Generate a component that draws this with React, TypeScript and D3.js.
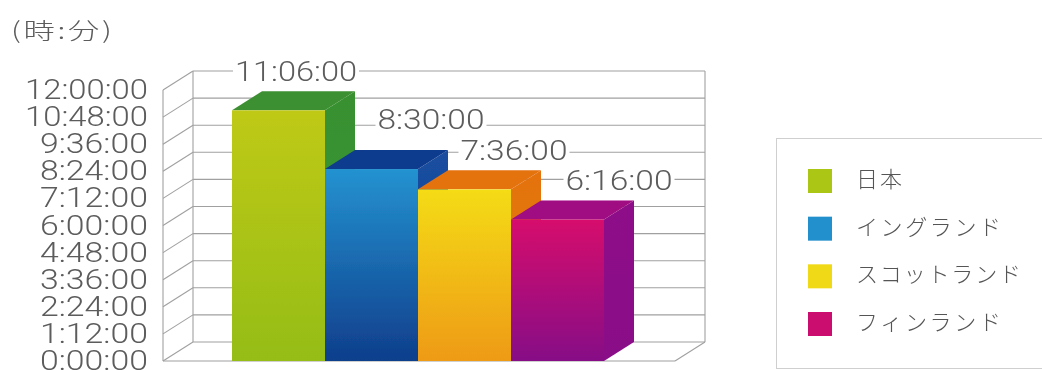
import React from "react";
import * as d3 from "d3";

const categories = ["日本", "イングランド", "スコットランド", "フィンランド"];
const valueLabels = ["11:06:00", "8:30:00", "7:36:00", "6:16:00"];
const hours = [11.1, 8.5, 7.6, 6.267];
const tickLabels = ["0:00:00","1:12:00","2:24:00","3:36:00","4:48:00","6:00:00","7:12:00","8:24:00","9:36:00","10:48:00","12:00:00"];
const tickHours = [0,1.2,2.4,3.6,4.8,6,7.2,8.4,9.6,10.8,12];
const legendColors = ["#acc614","#2490cc","#f0d914","#cc1070"];
const frontTop = ["#bfc916","#2492d0","#f4dc12","#d6106c"];
const frontBottom = ["#95bd14","#0f3e8c","#ee9a12","#860f86"];
const topFace = ["#3d9030","#113a8e","#e4720e","#a00c82"];
const sideTop = ["#37902f","#1a4fa0","#e4720e","#8e1088"];
const sideBottom = ["#3d9a34","#123c8c","#e0800e","#8a1088"];
const valueLabelCenters = [296, 431, 514, 619];
const valueLabelYs = [72, 120, 151, 181];

const W = 1042, H = 370;
const DX = 30, DY = -19;
const y = d3.scaleLinear().domain([0, 12]).range([361, 90]);
const x = d3.scaleBand<string>().domain(categories).range([232, 604]).padding(0);
const LEFT = 163, RIGHT = 675;
const TEXT = "#5c5c5c";
const GRID = "#a0a0a0";
const FONT = "Roboto, 'Liberation Sans', sans-serif";
const CJK = "'Noto Sans CJK JP', sans-serif";

const pts = (a: number[][]) => a.map(p => p.join(",")).join(" ");

export default function App() {
  const bw = x.bandwidth();
  return (
    <svg width={W} height={H} viewBox={`0 0 ${W} ${H}`} style={{ position: "absolute", left: 0, top: 0, background: "#fff" }}>
      <defs>
        <filter id="soft" x="-5%" y="-5%" width="110%" height="110%"><feGaussianBlur stdDeviation="0.55" /></filter>
        {categories.map((_, i) => (
          <g key={i}>
            <linearGradient id={`f${i}`} x1="0" y1="0" x2="0" y2="1">
              <stop offset="0" stopColor={frontTop[i]} /><stop offset="1" stopColor={frontBottom[i]} />
            </linearGradient>
            <linearGradient id={`s${i}`} x1="0" y1="0" x2="0" y2="1">
              <stop offset="0" stopColor={sideTop[i]} /><stop offset="1" stopColor={sideBottom[i]} />
            </linearGradient>
          </g>
        ))}
      </defs>
      <g filter="url(#soft)">
        <text transform="translate(11,39) scale(1.36,1)" fontSize={23} letterSpacing={2} fill={TEXT} fontWeight={300} fontFamily={CJK}>(時:分)</text>

        <g fill="none" stroke={GRID} strokeWidth={1.1}>
          {tickHours.map(t => (
            <g key={t}>
              <line x1={LEFT + DX} x2={RIGHT + DX} y1={y(t) + DY} y2={y(t) + DY} />
              <line x1={LEFT} x2={LEFT + DX} y1={y(t)} y2={y(t) + DY} />
            </g>
          ))}
          <line x1={LEFT} x2={LEFT} y1={y(12)} y2={y(0)} />
          <line x1={LEFT + DX} x2={LEFT + DX} y1={y(12) + DY} y2={y(0) + DY} />
          <line x1={RIGHT + DX} x2={RIGHT + DX} y1={y(12) + DY} y2={y(0) + DY} />
          <line x1={LEFT} x2={RIGHT} y1={y(0)} y2={y(0)} />
          <line x1={RIGHT} x2={RIGHT + DX} y1={y(0)} y2={y(0) + DY} />
        </g>

        {valueLabels.map((l, i) => {
          const w = i === 0 ? 122 : 107;
          return <rect key={l} x={valueLabelCenters[i] - w / 2 - 2} y={valueLabelYs[i] - 11} width={w + 4} height={22} fill="#fff" />;
        })}

        {categories.map((c, i) => {
          const x0 = x(c)!, x1 = x0 + bw, yt = y(hours[i]), yb = y(0);
          return (
            <g key={c}>
              <polygon points={pts([[x1, yt], [x1 + DX, yt + DY], [x1 + DX, yb + DY], [x1, yb]])} fill={`url(#s${i})`} />
              <polygon points={pts([[x0, yt], [x0 + DX, yt + DY], [x1 + DX, yt + DY], [x1, yt]])} fill={topFace[i]} />
              <rect x={x0} y={yt} width={bw} height={yb - yt} fill={`url(#f${i})`} />
            </g>
          );
        })}

        {tickLabels.map((l, i) => {
          const wide = l.length === 8 ? 123 : 108;
          return (
            <text key={l} x={148 - wide} y={y(tickHours[i]) + 9} fontSize={27} fontWeight={300} fill={TEXT} fontFamily={FONT}
              textLength={wide} lengthAdjust="spacingAndGlyphs">{l}</text>
          );
        })}

        {valueLabels.map((l, i) => {
          const w = i === 0 ? 122 : 107;
          return (
            <text key={l} x={valueLabelCenters[i] - w / 2} y={valueLabelYs[i] + 9} fontSize={27} fontWeight={300} fill={TEXT} fontFamily={FONT}
              textLength={w} lengthAdjust="spacingAndGlyphs">{l}</text>
          );
        })}

        <rect x={776.5} y={138.5} width={300} height={230} fill="#fff" stroke="#cfcfcf" />
        {categories.map((c, i) => {
          const cy = d3.scaleLinear().domain([0, 3]).range([180, 323])(i);
          const len = [46, 145, 165, 145][i];
          return (
            <g key={c}>
              <rect x={808} y={cy - 11} width={24} height={24} fill={legendColors[i]} />
              <text x={856} y={cy + 7} fontSize={22} fontWeight={300} fill="#555" fontFamily={CJK}
                textLength={len} lengthAdjust="spacing">{c}</text>
            </g>
          );
        })}
      </g>
    </svg>
  );
}
